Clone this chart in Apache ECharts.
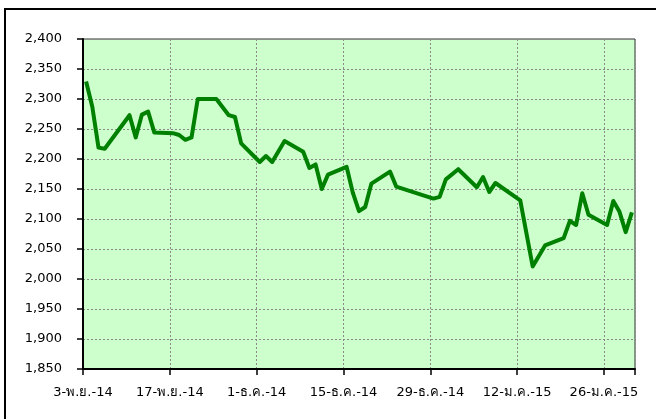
<!DOCTYPE html>
<html>
<head>
<meta charset="utf-8">
<script src="https://cdn.jsdelivr.net/npm/echarts@6/dist/echarts.min.js"></script>
<style>
html,body{margin:0;padding:0;background:#fff;}
#c{width:656px;height:419px;}
</style>
</head>
<body>
<div id="c"></div>
<script>
const dates = [
 '2014-11-03','2014-11-04','2014-11-05','2014-11-06','2014-11-10','2014-11-11','2014-11-12','2014-11-13','2014-11-14',
 '2014-11-17','2014-11-18','2014-11-19','2014-11-20','2014-11-21','2014-11-24','2014-11-26','2014-11-27','2014-11-28',
 '2014-12-01','2014-12-02','2014-12-03','2014-12-05','2014-12-08','2014-12-09','2014-12-10','2014-12-11','2014-12-12',
 '2014-12-15','2014-12-16','2014-12-17','2014-12-18','2014-12-19','2014-12-22','2014-12-23','2014-12-29','2014-12-30',
 '2014-12-31','2015-01-02','2015-01-05','2015-01-06','2015-01-07','2015-01-08','2015-01-12','2015-01-14','2015-01-16',
 '2015-01-19','2015-01-20','2015-01-21','2015-01-22','2015-01-23','2015-01-26','2015-01-27','2015-01-28','2015-01-29',
 '2015-01-30'
];
const values = [
 2329,2287,2219,2217,2273,2236,2274,2279,2244,
 2243,2240,2232,2236,2300,2300,2273,2270,2226,
 2195,2205,2195,2230,2212,2185,2191,2150,2174,
 2187,2144,2113,2120,2159,2179,2154,2134,2137,
 2166,2183,2153,2170,2145,2160,2131,2021,2056,
 2068,2097,2090,2143,2107,2090,2130,2112,2078,
 2111
];
const xTickLabels = ['3-พ.ย.-14','17-พ.ย.-14','1-ธ.ค.-14','15-ธ.ค.-14','29-ธ.ค.-14','12-ม.ค.-15','26-ม.ค.-15'];
const axisStartDate = '2014-11-03';
const axisEndDate = '2015-01-31';

function dayNum(s){ const p=s.split('-').map(Number); return Date.UTC(p[0],p[1]-1,p[2])/86400000; }
const d0 = dayNum(axisStartDate);
const dMax = dayNum(axisEndDate) - d0;
const seriesData = dates.map((d,i)=>[dayNum(d)-d0+0.5, values[i]]);

const chart = echarts.init(document.getElementById('c'), null, {renderer:'canvas'});
const font = 'DejaVu Sans, Tahoma, sans-serif';
chart.setOption({
  animation:false,
  backgroundColor:'#ffffff',
  graphic:[{type:'rect', shape:{x:5,y:9,width:700,height:450}, style:{fill:'none',stroke:'#000',lineWidth:2}, z:-1}],
  grid:{left:83,top:39,right:21,bottom:50,show:true,backgroundColor:'#ccffcc',borderColor:'#333',borderWidth:1},
  xAxis:{
    type:'value', min:0, max:dMax, interval:14,
    axisLine:{show:true,onZero:false,lineStyle:{color:'#000',width:2}},
    axisTick:{show:true,length:6,lineStyle:{color:'#000',width:1.5}},
    axisLabel:{margin:17,color:'#000',fontSize:13,fontFamily:font,
      formatter:v=>{const i=Math.round(v/14); return (v%14===0 && xTickLabels[i])?xTickLabels[i]:'';}},
    splitLine:{show:true,lineStyle:{color:'#8a8a8a',type:[2,2],width:1}}
  },
  yAxis:{
    type:'value', min:1850, max:2400, interval:50,
    axisLine:{show:true,lineStyle:{color:'#000',width:2}},
    axisTick:{show:true,length:6,lineStyle:{color:'#000',width:1.5}},
    axisLabel:{margin:21,color:'#000',fontSize:13,fontFamily:font,
      formatter:v=>v.toLocaleString('en-US')},
    splitLine:{show:true,lineStyle:{color:'#8a8a8a',type:[2,2],width:1}}
  },
  series:[{type:'line',data:seriesData,showSymbol:false,symbol:'none',smooth:false,
    lineStyle:{color:'#008000',width:4,join:'round'},itemStyle:{color:'#008000'}}]
});
</script>
</body>
</html>
